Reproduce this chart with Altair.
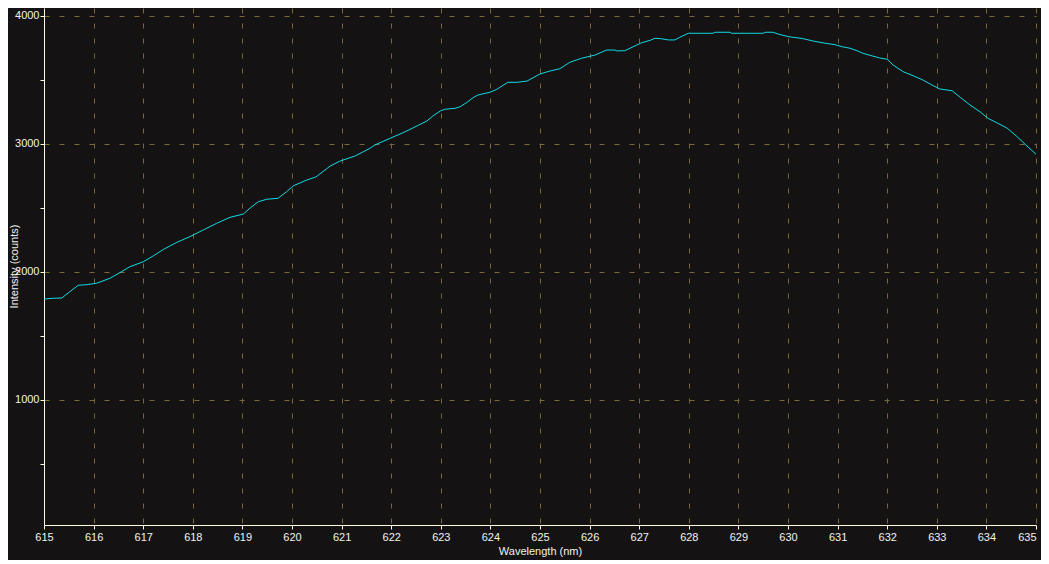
import altair as alt
import pandas as pd

wavelength = [615.00, 615.19, 615.36, 615.52, 615.69, 615.86, 616.06, 616.33, 616.53, 616.73,
              617.00, 617.20, 617.41, 617.68, 617.94, 618.21, 618.48, 618.75, 619.02, 619.15,
              619.32, 619.49, 619.72, 619.89, 620.03, 620.30, 620.48, 620.77, 620.97, 621.27,
              621.57, 621.67, 621.98, 622.24, 622.52, 622.72, 622.84, 623.00, 623.08, 623.29,
              623.39, 623.53, 623.65, 623.75, 623.99, 624.13, 624.35, 624.54, 624.74, 624.86,
              625.00, 625.20, 625.40, 625.60, 625.84, 626.11, 626.34, 626.51, 626.55, 626.71,
              626.95, 627.05, 627.22, 627.32, 627.43, 627.59, 627.72, 627.82, 627.99, 628.49,
              628.53, 628.83, 628.86, 629.50, 629.54, 629.70, 629.80, 629.90, 630.02, 630.18,
              630.30, 630.50, 630.75, 630.95, 631.09, 631.25, 631.39, 631.51, 631.65, 631.85,
              632.00, 632.12, 632.32, 632.52, 632.72, 632.90, 633.06, 633.31, 633.47, 633.67,
              633.87, 634.03, 634.23, 634.42, 634.62, 634.78, 635.00]
intensity = [1789, 1795, 1797, 1846, 1896, 1901, 1912, 1951, 1995, 2041,
             2080, 2125, 2177, 2232, 2276, 2328, 2380, 2427, 2453, 2498,
             2549, 2568, 2576, 2627, 2674, 2719, 2742, 2828, 2867, 2906,
             2966, 2992, 3045, 3088, 3141, 3180, 3219, 3260, 3271, 3279,
             3291, 3326, 3362, 3383, 3404, 3427, 3482, 3482, 3492, 3518,
             3547, 3570, 3588, 3638, 3670, 3695, 3734, 3734, 3727, 3729,
             3773, 3791, 3810, 3826, 3823, 3813, 3813, 3834, 3865, 3865,
             3873, 3873, 3865, 3865, 3873, 3873, 3859, 3849, 3838, 3830,
             3823, 3805, 3787, 3776, 3760, 3748, 3729, 3709, 3693, 3672,
             3662, 3617, 3565, 3534, 3500, 3461, 3430, 3416, 3365, 3305,
             3252, 3201, 3162, 3123, 3057, 2998, 2920]

x_ticks = [615 + 0.5 * i for i in range(41)]
y_ticks = [500, 1000, 1500, 2000, 2500, 3000, 3500, 4000]

df = pd.DataFrame({"wl": wavelength, "int": intensity})

BG = "#141213"
GRID = "#7a6838"
AXIS = "#fffbe0"
TXT = "#f2f2ec"
FONT = "Liberation Sans"

x_axis = alt.Axis(
    values=x_ticks,
    format="d",
    labelExpr="datum.value % 1 === 0 ? datum.label : ''",
    grid=True,
    gridColor=GRID,
    gridDash=[5, 10],
    gridWidth=1,
    gridOpacity={"condition": {"test": "datum.value % 1 !== 0", "value": 0}, "value": 1},
    domainColor=AXIS,
    tickColor=AXIS,
    tickSize=4,
    labelColor=TXT,
    labelFont=FONT,
    labelFontSize=11,
    labelPadding=2,
    labelFlush=False,
    labelOverlap=False,
    labelAlign={"condition": {"test": "datum.value >= 635", "value": "right"}, "value": "center"},
    titleColor=TXT,
    titleFont=FONT,
    titleFontSize=11,
    titleFontWeight="normal",
    titlePadding=3,
)

y_axis = alt.Axis(
    values=y_ticks,
    labelExpr="datum.value % 1000 === 0 ? datum.label : ''",
    format="d",
    grid=True,
    gridColor=GRID,
    gridDash=[5, 10],
    gridWidth=1,
    gridOpacity={"condition": {"test": "datum.value % 1000 !== 0", "value": 0}, "value": 1},
    domainColor=AXIS,
    tickColor=AXIS,
    tickSize=4,
    labelColor=TXT,
    labelFont=FONT,
    labelFontSize=11,
    labelPadding=1,
    labelOverlap=False,
    titleColor=TXT,
    titleFont=FONT,
    titleFontSize=11,
    titleFontWeight="normal",
    titleAngle=270,
    titleBaseline="bottom",
    titleAlign="center",
    titleX=-25,
    titleY=258,
)

chart = (
    alt.Chart(df)
    .mark_line(color="#10dbe6", strokeWidth=1, interpolate="linear")
    .encode(
        x=alt.X("wl:Q", title="Wavelength (nm)",
                scale=alt.Scale(domain=[615, 635], nice=False, zero=False),
                axis=x_axis),
        y=alt.Y("int:Q", title="Intensity (counts)",
                scale=alt.Scale(domain=[23.4, 4062.5], nice=False, zero=False),
                axis=y_axis),
    )
    .properties(
        width=992,
        height=517,
        background=BG,
        padding={"left": 36, "top": 0, "right": 5, "bottom": 35},
        autosize=alt.AutoSizeParams(type="none"),
    )
    .configure_view(stroke=None)
)

chart.save("out.html", embed_options={"renderer": "svg", "actions": False})
